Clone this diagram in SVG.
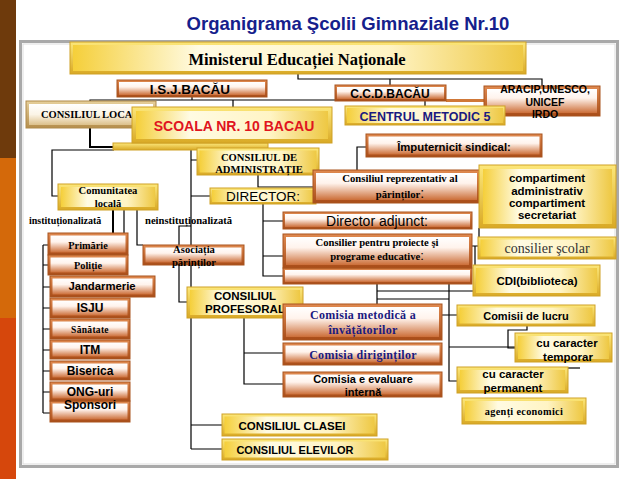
<svg xmlns="http://www.w3.org/2000/svg" width="638" height="479" viewBox="0 0 638 479">
<defs>
<linearGradient id="gYo" x1="0" y1="0" x2="0" y2="1"><stop offset="0" stop-color="#FCE77A"/><stop offset="1" stop-color="#D9A925"/></linearGradient>
<linearGradient id="gYi" x1="0" y1="0" x2="1" y2="0"><stop offset="0" stop-color="#F5CF3A"/><stop offset=".28" stop-color="#FFFBE3"/><stop offset=".7" stop-color="#FFF4C4"/><stop offset="1" stop-color="#EEC843"/></linearGradient>
<linearGradient id="gOo" x1="0" y1="0" x2="0" y2="1"><stop offset="0" stop-color="#E08A50"/><stop offset="1" stop-color="#A84C18"/></linearGradient>
<linearGradient id="gOi" x1="0" y1="0" x2="0" y2="1"><stop offset="0" stop-color="#FFFFFF"/><stop offset=".38" stop-color="#FFF3EC"/><stop offset="1" stop-color="#CC6E38"/></linearGradient>
<linearGradient id="gTo" x1="0" y1="0" x2="0" y2="1"><stop offset="0" stop-color="#E6CF9A"/><stop offset="1" stop-color="#B58E4C"/></linearGradient>
<linearGradient id="gTi" x1="0" y1="0" x2="0" y2="1"><stop offset="0" stop-color="#FFFFFF"/><stop offset=".5" stop-color="#FBF4E6"/><stop offset="1" stop-color="#DCC08A"/></linearGradient>
</defs>
<style>
.yo{fill:url(#gYo);stroke:#CFA126;stroke-width:1}
.yi{fill:url(#gYi)}
.oo{fill:url(#gOo);stroke:#A9541F;stroke-width:1}
.oi{fill:url(#gOi)}
.to{fill:url(#gTo);stroke:#B08A4A;stroke-width:1}
.ti{fill:url(#gTi)}
.s{font-family:"Liberation Sans",Arial,sans-serif;font-weight:bold;text-anchor:middle;fill:#000}
.n{font-family:"Liberation Sans",Arial,sans-serif;font-weight:normal;text-anchor:middle;fill:#000}
.r{font-family:"Liberation Serif","Times New Roman",serif;font-weight:bold;text-anchor:middle;fill:#000}
.bl{fill:#1A1A80}
</style>
<rect width="638" height="479" fill="#FFFFFF"/>
<g id="stripe">
<rect x="0" y="0" width="16" height="158" fill="#6E3A0C"/>
<rect x="0" y="158" width="16" height="160" fill="#D4690A"/>
<rect x="0" y="318" width="16" height="161" fill="#D6470C"/>
</g>
<g id="frame">
<rect x="20.5" y="41.5" width="597" height="425" fill="#FFFFFF" stroke="#A9A9A9" stroke-width="3"/>
<rect x="23" y="44" width="592" height="420" fill="none" stroke="#DDDDDD" stroke-width="1"/>
</g>
<text id="title" x="348" y="30" class="s" font-size="18.5" style="fill:#15208C">Organigrama Şcolii Gimnaziale Nr.10</text>

<g id="connectors" fill="none" stroke="#000" stroke-width="1.2">
<path d="M298 74V79H542V86M390 79V86"/>
<path d="M192 97V100M90 103V100H335M233 100V107"/>
<path d="M446 100.5H484" stroke="#D07838" stroke-width="3"/>
<path d="M425 101V106"/>
<path d="M90 128V147H114" stroke-width="2"/>
<path d="M58 196H52V150H114"/>
<path d="M191 150V449M191 160H197M191 196H210"/>
<path d="M258 175V187H313"/>
<path d="M366 147H357V170"/>
<path d="M263 204V276H283M263 221H283M263 256H283"/>
<path d="M479 228V237M472 246H479M475 246V291H377M377 284V304M377 299H449M449 284V381H457M442 315H457M449 347H515"/>
<path d="M527 326V330H508V348H515"/>
<path d="M568 368H580"/>
<path d="M244 318V384H283M244 353H283M191 449H222M191 425H222"/>
<path d="M113 210V233" stroke-width="2"/>
<path d="M124 210V233M137 210V245H143"/>
<path d="M191 226H179V302H187"/>
<path d="M43 245V413M43 245H48M43 265H48M43 287H50M43 308H50M43 329H50M43 350H50M43 371H50M43 392H50M43 413H50"/>
</g>

<g id="n-minister"><rect class="yo" x="70" y="42" width="456" height="32"/><rect class="yi" x="73" y="45" width="450" height="26"/><text class="r" x="297" y="65" font-size="16.5">Ministerul Educației Naționale</text></g>
<g id="n-isj"><rect class="oo" x="117" y="80" width="150" height="17"/><rect class="oi" x="119" y="82" width="146" height="13"/><text class="s" x="190" y="93.5" font-size="13.5">I.S.J.BACĂU</text></g>
<g id="n-ccd"><rect class="oo" x="335" y="85" width="111" height="16"/><rect class="oi" x="337" y="87" width="107" height="12"/><text class="s" x="390" y="97.5" font-size="12">C.C.D.BACĂU</text></g>
<g id="n-aracip"><rect class="oo" x="484" y="86" width="116" height="30"/><rect class="oi" x="487" y="89" width="110" height="24"/><text class="s" x="545" y="93" font-size="10.5">ARACIP,UNESCO,</text><text class="s" x="545" y="106" font-size="10.5">UNICEF</text><text class="s" x="545" y="118" font-size="10.5">IRDO</text></g>
<g id="n-centrul"><rect class="yo" x="345" y="106" width="160" height="19"/><rect class="yi" x="347" y="108" width="156" height="15"/><text class="s bl" x="425" y="120.5" font-size="12.5">CENTRUL METODIC 5</text></g>
<g id="n-consiliul-local"><rect class="to" x="26" y="101" width="130" height="27"/><rect class="ti" x="29" y="104" width="124" height="21"/><text class="r" x="41" y="118" font-size="10.5" style="text-anchor:start">CONSILIUL LOCAL</text></g>
<g id="n-scoala"><rect x="113" y="143" width="155" height="7" fill="url(#gYo)" stroke="#CFA126" stroke-width="1"/><rect class="yo" x="132" y="107" width="200" height="36"/><rect class="yi" x="136" y="111" width="192" height="28"/><text class="s" x="234" y="131" font-size="14" style="fill:#E0141E">SCOALA NR. 10 BACAU</text></g>
<g id="n-ca"><rect class="yo" x="197" y="148" width="122" height="27"/><rect class="yi" x="199.5" y="150.5" width="117" height="22"/><text class="r" x="259" y="160.5" font-size="10.6">CONSILIUL DE</text><text class="r" x="259" y="173" font-size="10.6">ADMINISTRAȚIE</text></g>
<g id="n-sindical"><rect class="oo" x="366" y="134" width="176" height="23"/><rect class="oi" x="368.5" y="136.5" width="171" height="18"/><text class="s" x="454" y="151" font-size="11.3">Împuternicit sindical:</text></g>
<g id="n-director"><rect class="yo" x="210" y="188" width="106" height="16"/><rect class="yi" x="212" y="190" width="102" height="12"/><text class="n" x="263" y="201" font-size="13.5">DIRECTOR:</text></g>
<g id="n-crp"><rect class="oo" x="313" y="170" width="167" height="33"/><rect class="oi" x="316" y="173" width="161" height="27"/><text class="r" x="400" y="182" font-size="10.7">Consiliul reprezentativ al</text><text class="r" x="400" y="198" font-size="10.7">părinților<tspan class="n" font-size="14">:</tspan></text></g>
<g id="n-compartiment"><rect class="yo" x="479" y="165" width="137" height="63"/><rect class="yi" x="483" y="169" width="129" height="55"/><text class="s" x="547" y="182" font-size="11.5">compartiment</text><text class="s" x="547" y="194.5" font-size="11.5">administrativ</text><text class="s" x="547" y="206.5" font-size="11.5">compartiment</text><text class="s" x="547" y="219" font-size="11.5">secretariat</text></g>
<g id="n-adjunct"><rect class="oo" x="283" y="212" width="189" height="17"/><rect class="oi" x="285" y="214" width="185" height="13"/><text class="n" x="377" y="226" font-size="14">Director adjunct:</text></g>
<g id="n-consilier-proiecte"><rect class="oo" x="283" y="268" width="189" height="16"/><rect class="oi" x="285" y="270" width="185" height="12"/><rect class="oo" x="283" y="234" width="189" height="34"/><rect class="oi" x="286" y="237" width="183" height="28"/><text class="r" x="377" y="245.5" font-size="10.6">Consilier pentru proiecte şi</text><text class="r" x="377" y="259.5" font-size="10.6">programe educative<tspan class="n" font-size="13">:</tspan></text></g>
<g id="n-consilier-scolar"><rect class="yo" x="478" y="237" width="138" height="22"/><rect class="yi" x="480.5" y="239.5" width="133" height="17"/><text class="r" x="547" y="253" font-size="14" style="font-weight:normal;fill:#333">consilier şcolar</text></g>
<g id="n-cdi"><rect class="yo" x="473" y="265" width="127" height="31"/><rect class="yi" x="476" y="268" width="121" height="25"/><text class="s" x="537" y="285" font-size="11.5">CDI(biblioteca)</text></g>
<g id="n-comisii-lucru"><rect class="yo" x="457" y="305" width="138" height="21"/><rect class="yi" x="459.5" y="307.5" width="133" height="16"/><text class="s" x="526" y="320" font-size="11">Comisii de lucru</text></g>
<g id="n-temporar"><rect class="yo" x="515" y="333" width="97" height="29"/><rect class="yi" x="518" y="336" width="91" height="23"/><text class="s" x="567" y="347" font-size="11.5">cu caracter</text><text class="s" x="568" y="360.5" font-size="11.5">temporar</text></g>
<g id="n-permanent"><rect class="yo" x="457" y="367" width="111" height="26"/><rect class="yi" x="460" y="370" width="105" height="20"/><text class="s" x="513" y="378" font-size="11.5">cu caracter</text><text class="s" x="513" y="391.5" font-size="11.5">permanent</text></g>
<g id="n-agenti"><rect class="yo" x="462" y="398" width="124" height="26"/><rect class="yi" x="465" y="401" width="118" height="20"/><text class="r" x="524" y="415" font-size="10.3" letter-spacing="0.3">agenți economici</text></g>
<g id="n-profesoral"><rect class="yo" x="187" y="287" width="116" height="31"/><rect class="yi" x="190" y="290" width="110" height="25"/><text class="s" x="245" y="300" font-size="11.5">CONSILIUL</text><text class="s" x="245" y="312.5" font-size="11.5">PROFESORAL</text></g>
<g id="n-metodica"><rect class="oo" x="283" y="304" width="159" height="36"/><rect class="oi" x="286" y="307" width="153" height="30"/><text class="r bl" x="363" y="319" font-size="12" letter-spacing="0.3">Comisia metodică a</text><text class="r bl" x="363" y="334" font-size="12" letter-spacing="0.3">învățătorilor</text></g>
<g id="n-dirigintilor"><rect class="oo" x="283" y="343" width="159" height="22"/><rect class="oi" x="285.5" y="345.5" width="154" height="17"/><text class="r bl" x="363" y="359" font-size="12" letter-spacing="0.3">Comisia diriginților</text></g>
<g id="n-evaluare"><rect class="oo" x="283" y="372" width="159" height="25"/><rect class="oi" x="285.5" y="374.5" width="154" height="20"/><text class="s" x="363" y="383" font-size="11">Comisia e evaluare</text><text class="s" x="363" y="395.5" font-size="11">internă</text></g>
<g id="n-clasei"><rect class="yo" x="222" y="414" width="155" height="22"/><rect class="yi" x="224.5" y="416.5" width="150" height="17"/><text class="s" x="292" y="429.5" font-size="11.5">CONSILIUL CLASEI</text></g>
<g id="n-elevilor"><rect class="yo" x="222" y="439" width="166" height="21"/><rect class="yi" x="224.5" y="441.5" width="161" height="16"/><text class="s" x="295" y="454" font-size="11">CONSILIUL ELEVILOR</text></g>
<g id="n-comunitatea"><rect class="yo" x="58" y="184" width="100" height="26"/><rect class="yi" x="61" y="187" width="94" height="20"/><text class="r" x="108" y="194" font-size="10.6">Comunitatea</text><text class="r" x="108" y="207" font-size="10.6">locală</text></g>
<text id="lbl-inst" class="r" x="29" y="224" font-size="10" style="text-anchor:start">instituționalizată</text>
<text id="lbl-neinst" class="r" x="145" y="224" font-size="10.6" style="text-anchor:start">neinstituționalizată</text>
<g id="n-asociatia"><rect class="oo" x="143" y="245" width="101" height="20"/><rect class="oi" x="145.5" y="247.5" width="96" height="15"/><text class="r" x="194" y="253" font-size="10.6">Asociația</text><text class="r" x="194" y="266" font-size="10.6">părinților</text></g>
<g id="n-primarie"><rect class="oo" x="48" y="233" width="80" height="22"/><rect class="oi" x="50.5" y="235.5" width="75" height="17"/><text class="r" x="88" y="249" font-size="10.3">Primărie</text></g>
<g id="n-politie"><rect class="oo" x="48" y="255" width="80" height="20"/><rect class="oi" x="50.5" y="257.5" width="75" height="15"/><text class="r" x="88" y="269" font-size="10.3">Poliție</text></g>
<g id="n-jandarmerie"><rect class="oo" x="50" y="276" width="105" height="21"/><rect class="oi" x="52.5" y="278.5" width="100" height="16"/><text class="s" x="102" y="290" font-size="11.3">Jandarmerie</text></g>
<g id="n-isju"><rect class="oo" x="50" y="298" width="80" height="20"/><rect class="oi" x="52.5" y="300.5" width="75" height="15"/><text class="s" x="90" y="312" font-size="12">ISJU</text></g>
<g id="n-sanatate"><rect class="oo" x="50" y="319" width="80" height="20"/><rect class="oi" x="52.5" y="321.5" width="75" height="15"/><text class="r" x="90" y="333" font-size="9.5" letter-spacing="0.3">Sănătate</text></g>
<g id="n-itm"><rect class="oo" x="50" y="340" width="80" height="19"/><rect class="oi" x="52.5" y="342.5" width="75" height="14"/><text class="s" x="90" y="353.5" font-size="12">ITM</text></g>
<g id="n-biserica"><rect class="oo" x="50" y="361" width="80" height="19"/><rect class="oi" x="52.5" y="363.5" width="75" height="14"/><text class="s" x="90" y="374.5" font-size="12">Biserica</text></g>
<g id="n-ong"><rect class="oo" x="50" y="401" width="80" height="21"/><rect class="oi" x="52.5" y="403.5" width="75" height="16"/><rect class="oo" x="50" y="382" width="80" height="19"/><rect class="oi" x="52.5" y="384.5" width="75" height="14"/><text class="s" x="90" y="395.5" font-size="12">ONG-uri</text><text class="s" x="90" y="408.5" font-size="12">Sponsori</text></g>
</svg>
